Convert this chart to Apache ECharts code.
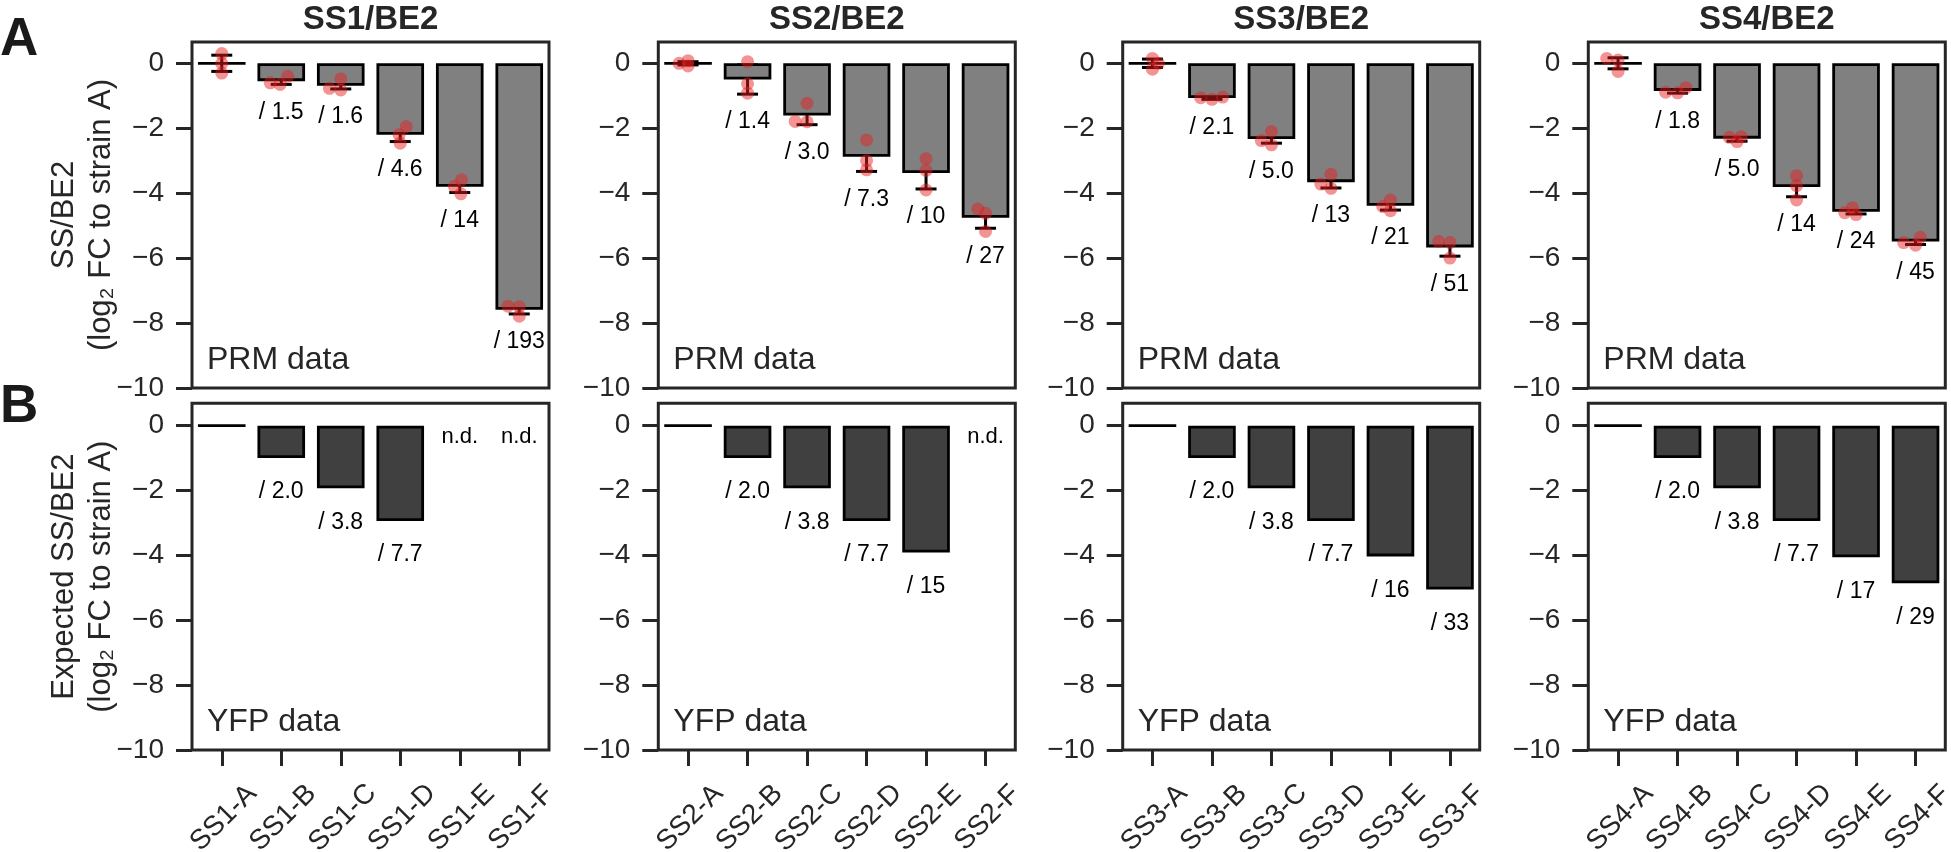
<!DOCTYPE html>
<html><head><meta charset="utf-8">
<script src="https://cdn.jsdelivr.net/npm/echarts@6/dist/echarts.min.js"></script>
<style>html,body{margin:0;padding:0;background:#fff}#c{width:1951px;height:852px}</style>
</head><body><div id="c"></div>
<script>
// ---------------- DATA ----------------
const panelTitles = ['SS1/BE2', 'SS2/BE2', 'SS3/BE2', 'SS4/BE2'];
const categories = [
  ['SS1-A', 'SS1-B', 'SS1-C', 'SS1-D', 'SS1-E', 'SS1-F'],
  ['SS2-A', 'SS2-B', 'SS2-C', 'SS2-D', 'SS2-E', 'SS2-F'],
  ['SS3-A', 'SS3-B', 'SS3-C', 'SS3-D', 'SS3-E', 'SS3-F'],
  ['SS4-A', 'SS4-B', 'SS4-C', 'SS4-D', 'SS4-E', 'SS4-F']
];
const yTicks = [-10, -8, -6, -4, -2, 0];

// PRM data (row A): bar means, error, replicate points, jitter (category units), labels
const prmMean = [
  [0, -0.55, -0.69, -2.20, -3.80, -7.59],
  [0, -0.50, -1.61, -2.88, -3.38, -4.76],
  [0, -1.07, -2.33, -3.66, -4.39, -5.67],
  [0, -0.85, -2.32, -3.81, -4.57, -5.49]
];
const prmErr = [
  [0.25, 0.10, 0.10, 0.21, 0.18, 0.13],
  [0.05, 0.45, 0.28, 0.45, 0.49, 0.32],
  [0.13, 0.04, 0.13, 0.18, 0.13, 0.27],
  [0.17, 0.07, 0.08, 0.30, 0.07, 0.09]
];
const prmReplicates = [
  [[0.30, 0.0, -0.30], [-0.60, -0.65, -0.40], [-0.77, -0.48, -0.82], [-1.95, -2.20, -2.46], [-3.59, -3.79, -4.02], [-7.48, -7.50, -7.79]],
  [[0.0, 0.08, -0.08], [0.05, -0.63, -0.92], [-1.23, -1.79, -1.80], [-2.36, -3.00, -3.28], [-2.94, -3.30, -3.90], [-4.49, -4.62, -5.18]],
  [[0.15, 0.0, -0.18], [-1.06, -1.11, -1.04], [-2.10, -2.38, -2.51], [-3.42, -3.72, -3.85], [-4.21, -4.41, -4.54], [-5.49, -5.52, -6.00]],
  [[0.15, 0.10, -0.25], [-0.89, -0.91, -0.75], [-2.28, -2.41, -2.26], [-3.46, -3.77, -4.21], [-4.60, -4.45, -4.66], [-5.52, -5.60, -5.36]]
];
const prmJitter = [
  [[0, 0, 0], [-0.185, -0.02, 0.11], [-0.19, 0, 0], [0.1, -0.02, 0], [0.03, -0.09, 0.02], [-0.19, 0, 0]],
  [[-0.15, 0, 0], [0, 0, 0], [0, -0.2, 0], [0, 0, 0], [0, 0, 0], [-0.13, 0, 0]],
  [[0, 0.1, 0], [-0.19, 0, 0.18], [0, -0.17, 0], [0, -0.17, 0], [0, -0.13, 0], [-0.19, 0, 0]],
  [[-0.19, 0, 0], [-0.2, 0, 0.14], [-0.13, 0, 0.07], [0, 0, 0], [-0.19, -0.06, 0], [-0.2, 0, 0.08]]
];
const prmLabels = [
  ['', '/ 1.5', '/ 1.6', '/ 4.6', '/ 14', '/ 193'],
  ['', '/ 1.4', '/ 3.0', '/ 7.3', '/ 10', '/ 27'],
  ['', '/ 2.1', '/ 5.0', '/ 13', '/ 21', '/ 51'],
  ['', '/ 1.8', '/ 5.0', '/ 14', '/ 24', '/ 45']
];

// YFP data (row B): expected values (null = n.d.) and labels
const yfpValues = [
  [0, -1.00, -1.93, -2.94, null, null],
  [0, -1.00, -1.93, -2.94, -3.91, null],
  [0, -1.00, -1.93, -2.94, -4.03, -5.05],
  [0, -1.00, -1.93, -2.94, -4.06, -4.86]
];
const yfpLabels = [
  ['', '/ 2.0', '/ 3.8', '/ 7.7', 'n.d.', 'n.d.'],
  ['', '/ 2.0', '/ 3.8', '/ 7.7', '/ 15', 'n.d.'],
  ['', '/ 2.0', '/ 3.8', '/ 7.7', '/ 16', '/ 33'],
  ['', '/ 2.0', '/ 3.8', '/ 7.7', '/ 17', '/ 29']
];
const rowNames = ['SS/BE2\n(log\u2082 FC to strain A)', 'Expected SS/BE2\n(log\u2082 FC to strain A)'];
const rowTags = ['PRM data', 'YFP data'];
const rowLetters = ['A', 'B'];

// ---------------- LAYOUT / STYLE ----------------
const FONT = '"Liberation Sans", Arial, Helvetica, sans-serif';
const INK = '#262626';
const gridLefts = [192, 658.3, 1122.7, 1588.3];
const gridW = 357;
const rows = [{ top: 42, height: 346, max: 0.656 }, { top: 403.3, height: 346.7, max: 0.69 }];

const chart = echarts.init(document.getElementById('c'), null, { renderer: 'canvas' });

const grid = [], xAxis = [], yAxis = [], series = [], graphic = [];
const fmt = v => (v === 0 ? '0' : (v < 0 ? '\u2212' + Math.abs(v) : String(v)));

for (let r = 0; r < 2; r++) {
  for (let p = 0; p < 4; p++) {
    const g = r * 4 + p;
    grid.push({ left: gridLefts[p], top: rows[r].top, width: gridW, height: rows[r].height,
      show: true, borderColor: INK, borderWidth: 3, backgroundColor: 'transparent' });
    xAxis.push({
      type: 'category', gridIndex: g, data: categories[p], boundaryGap: true, position: 'bottom',
      axisLine: { show: false, onZero: false }, splitLine: { show: false },
      axisTick: { show: r === 1, alignWithLabel: true, length: 16, lineStyle: { color: INK, width: 3 } },
      axisLabel: { show: false }
    });
    xAxis.push({ type: 'value', gridIndex: g, min: -0.5, max: 5.5, show: false,
      axisLine: { onZero: false } });
    yAxis.push({
      type: 'value', gridIndex: g, min: -10, max: rows[r].max, position: 'left',
      axisLine: { show: false, onZero: false }, splitLine: { show: false },
      axisTick: { show: true, length: 16, customValues: yTicks, lineStyle: { color: INK, width: 3 } },
      axisLabel: { customValues: yTicks, formatter: fmt, fontSize: 28, margin: 28, color: INK, fontFamily: FONT },
      name: p === 0 ? rowNames[r] : '', nameLocation: 'middle', nameRotate: 90, nameGap: 72,
      nameMoveOverlap: false,
      nameTextStyle: { fontSize: 31, lineHeight: 37, color: INK, fontFamily: FONT, align: 'center' }
    });
    // panel tag
    graphic.push({ type: 'text', x: gridLefts[p] + 15, y: r === 0 ? 360 : 721.7, silent: true,
      style: { text: rowTags[r], font: '32px ' + FONT, fill: INK, textAlign: 'left', textVerticalAlign: 'middle' } });
  }
}

for (let p = 0; p < 4; p++) {
  graphic.push({ type: 'text', x: gridLefts[p] + gridW / 2, y: 19.5, silent: true,
    style: { text: panelTitles[p], font: 'bold 33px ' + FONT, fill: INK, textAlign: 'center', textVerticalAlign: 'middle' } });
}
graphic.push({ type: 'text', x: 0, y: 40, silent: true,
  style: { text: rowLetters[0], font: 'bold 53px ' + FONT, fill: '#1a1a1a', textAlign: 'left', textVerticalAlign: 'middle' } });
graphic.push({ type: 'text', x: 0, y: 407.5, silent: true,
  style: { text: rowLetters[1], font: 'bold 53px ' + FONT, fill: '#1a1a1a', textAlign: 'left', textVerticalAlign: 'middle' } });

const CAP = 10.5;
for (let p = 0; p < 4; p++) {
  const gt = p, gb = p + 4;
  // error bars (beneath bars)
  series.push({
    type: 'custom', xAxisIndex: 2 * gt + 1, yAxisIndex: gt, z: 1, silent: true,
    data: prmMean[p].map((m, i) => [i, m, prmErr[p][i]]),
    renderItem: (params, api) => {
      const i = api.value(0), m = api.value(1), e = api.value(2);
      const t = api.coord([i, m + e]), b = api.coord([i, m - e]);
      const st = { stroke: '#000', lineWidth: 3 };
      return { type: 'group', children: [
        { type: 'line', shape: { x1: t[0], y1: t[1], x2: b[0], y2: b[1] }, style: st },
        { type: 'line', shape: { x1: t[0] - CAP, y1: t[1], x2: t[0] + CAP, y2: t[1] }, style: st },
        { type: 'line', shape: { x1: b[0] - CAP, y1: b[1], x2: b[0] + CAP, y2: b[1] }, style: st }
      ] };
    }
  });
  // PRM bars
  series.push({
    type: 'bar', xAxisIndex: 2 * gt, yAxisIndex: gt, z: 2, silent: true, barWidth: '80%',
    data: prmMean[p],
    itemStyle: { color: '#808080', borderColor: '#000', borderWidth: 2.8 }
  });
  // replicate points
  const pts = [];
  prmReplicates[p].forEach((reps, i) => reps.forEach((v, k) => pts.push([i + prmJitter[p][i][k], v])));
  series.push({
    type: 'scatter', xAxisIndex: 2 * gt + 1, yAxisIndex: gt, z: 3, silent: true,
    data: pts, symbolSize: 13, itemStyle: { color: 'rgba(230,30,30,0.6)' }
  });
  // PRM fold labels
  series.push({
    type: 'custom', xAxisIndex: 2 * gt + 1, yAxisIndex: gt, z: 4, silent: true,
    data: prmMean[p].map((m, i) => [i, m - prmErr[p][i]]),
    renderItem: (params, api) => {
      const i = params.dataIndex;
      const txt = prmLabels[p][i];
      if (!txt) return null;
      const pt = api.coord([api.value(0), api.value(1)]);
      return { type: 'text', x: pt[0], y: pt[1] + 28,
        style: { text: txt, font: '23px ' + FONT, fill: '#000', textAlign: 'center', textVerticalAlign: 'middle' } };
    }
  });
  // YFP bars
  series.push({
    type: 'bar', xAxisIndex: 2 * gb, yAxisIndex: gb, z: 2, silent: true, barWidth: '80%',
    data: yfpValues[p],
    itemStyle: { color: '#404040', borderColor: '#000', borderWidth: 2.8 }
  });
  // YFP labels
  series.push({
    type: 'custom', xAxisIndex: 2 * gb + 1, yAxisIndex: gb, z: 4, silent: true,
    data: yfpValues[p].map((v, i) => [i, v === null ? 0 : v, v === null ? 1 : 0]),
    renderItem: (params, api) => {
      const i = params.dataIndex;
      const txt = yfpLabels[p][i];
      if (!txt) return null;
      const nd = api.value(2) === 1;
      const pt = api.coord([api.value(0), api.value(1)]);
      return { type: 'text', x: pt[0], y: pt[1] + (nd ? 11 : 34),
        style: { text: txt, font: (nd ? '22px ' : '23px ') + FONT, fill: '#000', textAlign: 'center', textVerticalAlign: 'middle' } };
    }
  });
  // rotated category labels under the bottom panels (centred on each tick)
  series.push({
    type: 'custom', xAxisIndex: 2 * gb + 1, yAxisIndex: gb, z: 4, silent: true,
    data: categories[p].map((c, i) => [i, -10]),
    renderItem: (params, api) => {
      const pt = api.coord([api.value(0), api.value(1)]);
      return { type: 'text', x: pt[0] + 2, y: pt[1] + 68, rotation: Math.PI / 4,
        style: { text: categories[p][params.dataIndex], font: '28px ' + FONT, fill: INK,
          textAlign: 'center', textVerticalAlign: 'middle' } };
    }
  });
}

chart.setOption({ animation: false, backgroundColor: '#fff', grid, xAxis, yAxis, series, graphic });
</script>
</body></html>
